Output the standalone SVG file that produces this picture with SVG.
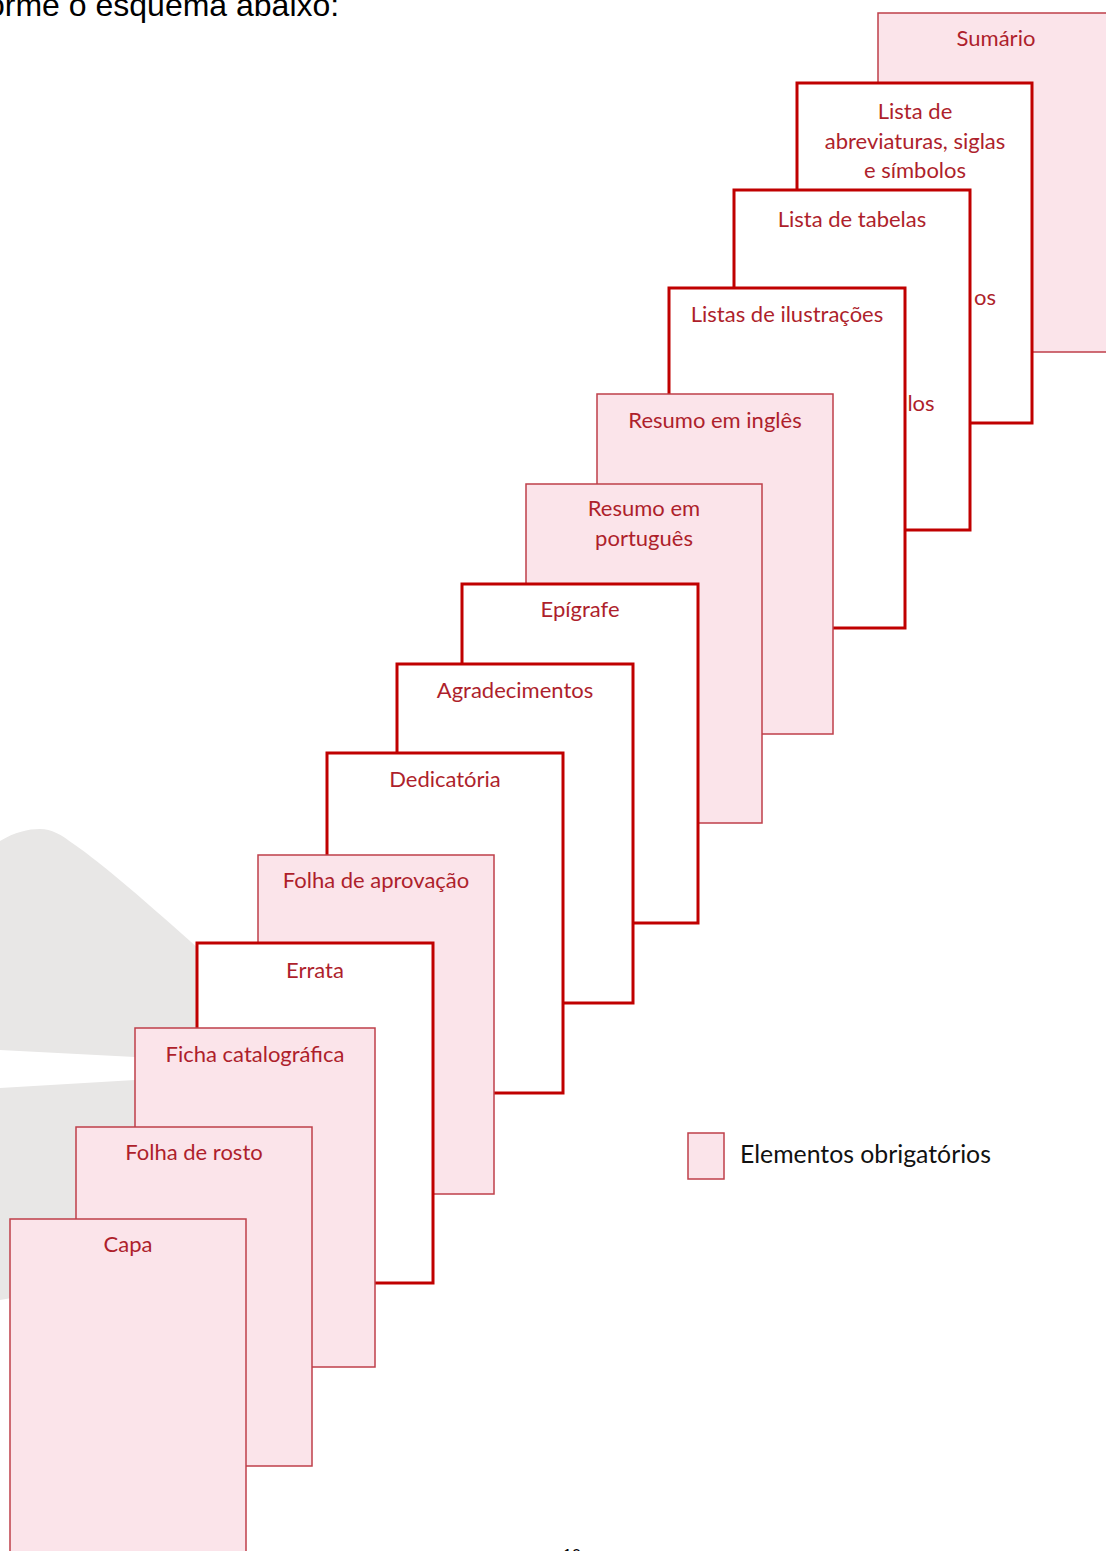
<svg xmlns="http://www.w3.org/2000/svg" width="1106" height="1551" viewBox="0 0 1106 1551">
  <style>
    .req { fill: #FBE4EA; stroke: #BF3F4A; stroke-width: 1.5; }
    .opt { fill: #FFFFFF; stroke: #C00000; stroke-width: 3; }
    .lbl { font-family: Lato, "Liberation Sans", sans-serif; font-size: 22px; fill: #AE1F2C; text-anchor: middle; }
    .body { font-family: "Liberation Sans", Arial, sans-serif; font-size: 32px; fill: #000000; }
    .legend { font-family: Lato, "Liberation Sans", sans-serif; font-size: 24.8px; fill: #111111; }
    .wm { fill: #E8E7E6; }
  </style>

  <!-- background and watermark -->
  <rect x="0" y="0" width="1106" height="1551" fill="#FFFFFF"/>
  <g id="watermark">
    <path class="wm" d="M0,841 C15,832 28,829 40,829 C52,829 60,834 75,845 C100,862 150,905 200,950 L200,1058 L135,1057 L0,1050 Z"/>
    <path class="wm" d="M0,1088 L135,1080 L220,1076 L220,1260 C150,1275 60,1290 0,1300 Z"/>
  </g>

  <text class="body" x="-13" y="16">orme o esquema abaixo:</text>

  <!-- pages, from the back of the stack to the front -->
  <g id="sumario">
    <rect class="req" x="878" y="13" width="236" height="339"/>
    <text class="lbl" x="996" y="46">Sumário</text>
  </g>
  <g id="abreviaturas">
    <rect class="opt" x="797" y="83" width="235" height="340"/>
    <text class="lbl" x="915" y="119">Lista de</text>
    <text class="lbl" x="915" y="149">abreviaturas, siglas</text>
    <text class="lbl" x="915" y="178">e símbolos</text>
    <text class="lbl" x="985" y="305">os</text>
  </g>
  <g id="tabelas">
    <rect class="opt" x="734" y="190" width="236" height="340"/>
    <text class="lbl" x="852" y="227">Lista de tabelas</text>
    <text class="lbl" x="921" y="411">los</text>
  </g>
  <g id="ilustracoes">
    <rect class="opt" x="669" y="288" width="236" height="340"/>
    <text class="lbl" x="787" y="322">Listas de ilustrações</text>
  </g>
  <g id="resumo-ingles">
    <rect class="req" x="597" y="394" width="236" height="340"/>
    <text class="lbl" x="715" y="428">Resumo em inglês</text>
  </g>
  <g id="resumo-portugues">
    <rect class="req" x="526" y="484" width="236" height="339"/>
    <text class="lbl" x="644" y="516">Resumo em</text>
    <text class="lbl" x="644" y="546">português</text>
  </g>
  <g id="epigrafe">
    <rect class="opt" x="462" y="584" width="236" height="339"/>
    <text class="lbl" x="580" y="617">Epígrafe</text>
  </g>
  <g id="agradecimentos">
    <rect class="opt" x="397" y="664" width="236" height="339"/>
    <text class="lbl" x="515" y="698">Agradecimentos</text>
  </g>
  <g id="dedicatoria">
    <rect class="opt" x="327" y="753" width="236" height="340"/>
    <text class="lbl" x="445" y="787">Dedicatória</text>
  </g>
  <g id="folha-aprovacao">
    <rect class="req" x="258" y="855" width="236" height="339"/>
    <text class="lbl" x="376" y="888">Folha de aprovação</text>
  </g>
  <g id="errata">
    <rect class="opt" x="197" y="943" width="236" height="340"/>
    <text class="lbl" x="315" y="978">Errata</text>
  </g>
  <g id="ficha-catalografica">
    <rect class="req" x="135" y="1028" width="240" height="339"/>
    <text class="lbl" x="255" y="1062">Ficha catalográfica</text>
  </g>
  <g id="folha-rosto">
    <rect class="req" x="76" y="1127" width="236" height="339"/>
    <text class="lbl" x="194" y="1160">Folha de rosto</text>
  </g>
  <g id="capa">
    <rect class="req" x="10" y="1219" width="236" height="345"/>
    <text class="lbl" x="128" y="1252">Capa</text>
  </g>

  <!-- legend -->
  <g id="legenda">
    <rect class="req" x="688" y="1133" width="36" height="46"/>
    <text class="legend" x="740" y="1163">Elementos obrigatórios</text>
  </g>

  <text x="563" y="1561" font-family="'Liberation Sans', Arial, sans-serif" font-size="16" fill="#000000">10</text>

  <g id="connectors"/>
</svg>
